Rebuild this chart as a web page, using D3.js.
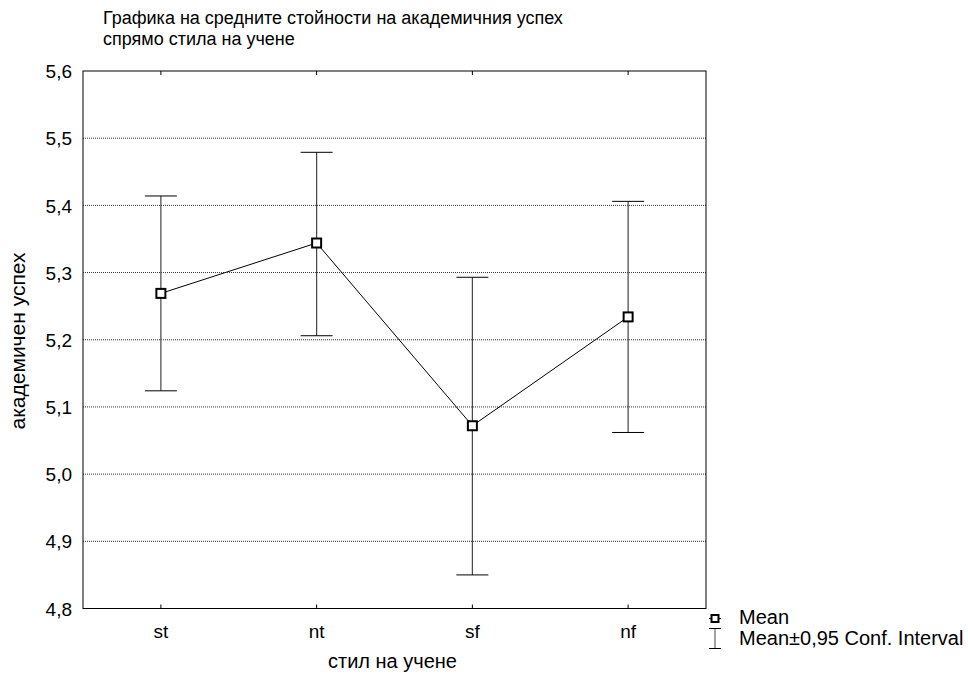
<!DOCTYPE html>
<html><head><meta charset="utf-8">
<script src="https://cdn.jsdelivr.net/npm/d3@7"></script>
<style>body{margin:0;background:#fff}svg{display:block}text{font-family:"Liberation Sans",Arial,sans-serif;fill:#000}</style>
</head><body><svg id="c" width="968" height="679"></svg>
<script>
const categories = ["st","nt","sf","nf"];
const means = [5.269, 5.344, 5.072, 5.234];
const upper = [5.414, 5.479, 5.293, 5.406];
const lower = [5.124, 5.206, 4.850, 5.062];
const yTicks = [4.8,4.9,5.0,5.1,5.2,5.3,5.4,5.5,5.6];
const title1 = "Графика на средните стойности на академичния успех";
const title2 = "спрямо стила на учене";
const xTitle = "стил на учене";
const yTitle = "академичен успех";

const svg = d3.select("#c");
const L=83, R=706, T=71, B=608.5;
const x = d3.scaleBand().domain(categories).range([L,R]);
const cx = d => x(d)+x.bandwidth()/2;
const y = d3.scaleLinear().domain([4.8,5.6]).range([B,T]);
const fmt = v => d3.format(".1f")(v).replace(".",",");

// gridlines
svg.append("g").selectAll("line").data(yTicks.filter(v=>v>4.8&&v<5.6)).join("line")
  .attr("x1",L).attr("x2",R).attr("y1",d=>y(d)).attr("y2",d=>y(d))
  .attr("stroke","#333").attr("stroke-width",1).attr("stroke-dasharray","1,1");

// frame
svg.append("rect").attr("x",L).attr("y",T).attr("width",R-L).attr("height",B-T)
  .attr("fill","none").attr("stroke","#000").attr("stroke-width",1);

// y axis
const ya = svg.append("g").attr("transform",`translate(${L},0)`)
  .call(d3.axisLeft(y).tickValues(yTicks).tickFormat(fmt).tickSize(0).tickPadding(11));
ya.select(".domain").remove();
ya.selectAll("text").attr("font-size",19).attr("font-family","Liberation Sans, Arial, sans-serif").attr("dy","0.35em");

// x axis bottom
const xa = svg.append("g").attr("transform",`translate(0,${B})`)
  .call(d3.axisBottom(x).tickSize(-4).tickPadding(16));
xa.select(".domain").remove();
xa.selectAll("line").attr("stroke","#000");
xa.selectAll("text").attr("font-size",19).attr("font-family","Liberation Sans, Arial, sans-serif");
// x axis top ticks
const xt = svg.append("g").attr("transform",`translate(0,${T})`)
  .call(d3.axisTop(x).tickSize(-4).tickFormat(""));
xt.select(".domain").remove();
xt.selectAll("line").attr("stroke","#000");

// error bars
const eb = svg.append("g");
categories.forEach((c,i)=>{
  eb.append("line").attr("x1",cx(c)).attr("x2",cx(c)).attr("y1",y(upper[i])).attr("y2",y(lower[i]))
    .attr("stroke","#444").attr("stroke-width",1.2);
  [upper[i],lower[i]].forEach(v=>{
    eb.append("line").attr("x1",cx(c)-16).attr("x2",cx(c)+16).attr("y1",y(v)).attr("y2",y(v))
      .attr("stroke","#000").attr("stroke-width",1);
  });
});

// line
svg.append("path").datum(means.map((m,i)=>[cx(categories[i]),y(m)]))
  .attr("d",d3.line()).attr("fill","none").attr("stroke","#000").attr("stroke-width",1);

// markers
svg.append("g").selectAll("rect").data(means).join("rect")
  .attr("x",(d,i)=>cx(categories[i])-4.5).attr("y",d=>y(d)-4.5)
  .attr("width",9).attr("height",9).attr("fill","#fff").attr("stroke","#000").attr("stroke-width",2);

// titles
svg.append("text").attr("x",103).attr("y",24).attr("font-size",18).text(title1);
svg.append("text").attr("x",103).attr("y",45).attr("font-size",18).text(title2);
svg.append("text").attr("x",(L+R)/2 - 2).attr("y",668).attr("text-anchor","middle").attr("font-size",20).text(xTitle);
svg.append("text").attr("transform","translate(25,341) rotate(-90)").attr("text-anchor","middle").attr("font-size",21).text(yTitle);

// legend
const lg = svg.append("g");
lg.append("line").attr("x1",709).attr("x2",721).attr("y1",618.5).attr("y2",618.5).attr("stroke","#000");
lg.append("rect").attr("x",711.5).attr("y",615).attr("width",7).attr("height",7).attr("fill","#fff").attr("stroke","#000").attr("stroke-width",2);
lg.append("text").attr("x",739).attr("y",624).attr("font-size",20).text("Mean");
lg.append("line").attr("x1",715).attr("x2",715).attr("y1",628).attr("y2",649).attr("stroke","#444");
lg.append("line").attr("x1",709).attr("x2",721).attr("y1",628.5).attr("y2",628.5).attr("stroke","#000");
lg.append("line").attr("x1",709).attr("x2",721).attr("y1",648.5).attr("y2",648.5).attr("stroke","#000");
lg.append("text").attr("x",739).attr("y",645).attr("font-size",20).text("Mean±0,95 Conf. Interval");
</script></body></html>
